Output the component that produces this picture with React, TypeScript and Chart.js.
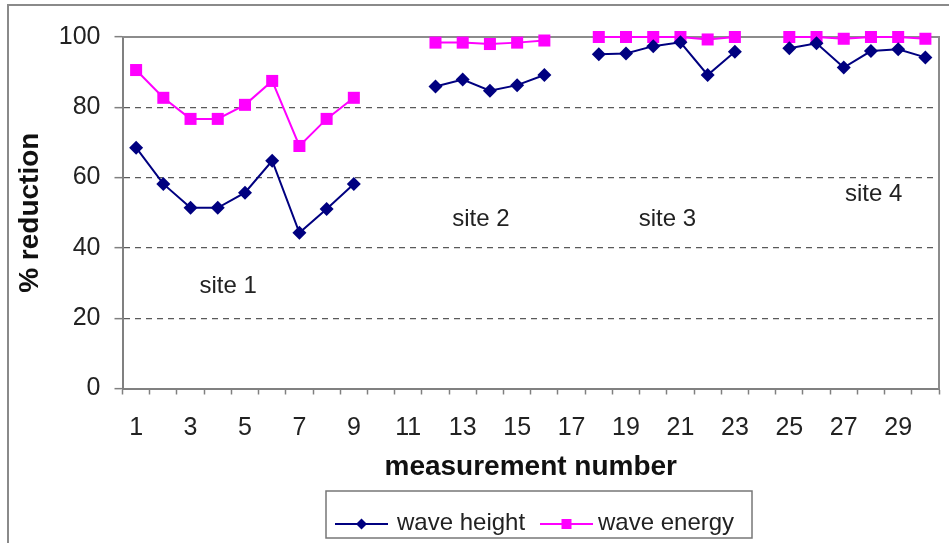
import React, { useEffect, useRef } from "react";
import { Chart, registerables } from "chart.js";

Chart.register(...registerables);

const categories: string[] = Array.from({ length: 30 }, (_, i) => String(i + 1));

const waveHeight: (number | null)[] = [
  68.5, 58.2, 51.4, 51.4, 55.7, 64.8, 44.3, 51.1, 58.2,
  null, null,
  85.9, 87.9, 84.7, 86.3, 89.2,
  null,
  95.1, 95.3, 97.4, 98.5, 89.2, 95.8,
  null,
  96.8, 98.2, 91.3, 96.0, 96.5, 94.2,
];

const waveEnergy: (number | null)[] = [
  90.6, 82.7, 76.7, 76.7, 80.7, 87.5, 69.0, 76.7, 82.7,
  null, null,
  98.4, 98.4, 98.0, 98.4, 99.0,
  null,
  100, 100, 100, 100, 99.3, 100,
  null,
  100, 100, 99.5, 100, 100, 99.5,
];

const yTicks: number[] = [0, 20, 40, 60, 80, 100];

const siteLabels: string[] = ["site 1", "site 2", "site 3", "site 4"];
const siteLabelIndex: number[] = [3.38, 12.67, 19.52, 27.1];
const siteLabelValue: number[] = [29, 48, 48, 55.3];

const FONT = "'Liberation Sans', Arial, sans-serif";

const framePlugin = {
  id: "frame",
  beforeDraw(chart: any) {
    const ctx = chart.ctx;
    ctx.save();
    ctx.fillStyle = "#ffffff";
    ctx.fillRect(0, 0, chart.width, chart.height);
    ctx.strokeStyle = "#8a8a8a";
    ctx.lineWidth = 2;
    ctx.strokeRect(8, 5, chart.width + 20, chart.height + 20);
    ctx.restore();
  },
  beforeDatasetsDraw(chart: any) {
    const ctx = chart.ctx;
    const a = chart.chartArea;
    ctx.save();
    ctx.strokeStyle = "#8c8c8c";
    ctx.lineWidth = 2;
    ctx.beginPath();
    ctx.moveTo(a.left, a.top);
    ctx.lineTo(a.right, a.top);
    ctx.lineTo(a.right, a.bottom);
    ctx.stroke();
    ctx.restore();
  },
  afterDatasetsDraw(chart: any) {
    const ctx = chart.ctx;
    const xs = chart.scales.x;
    const ys = chart.scales.y;
    ctx.save();
    ctx.fillStyle = "#222222";
    ctx.font = `24px ${FONT}`;
    ctx.textAlign = "center";
    ctx.textBaseline = "middle";
    siteLabels.forEach((t, i) => {
      ctx.fillText(t, xs.getPixelForValue(siteLabelIndex[i]), ys.getPixelForValue(siteLabelValue[i]));
    });
    ctx.restore();
  },
  afterDraw(chart: any) {
    const ctx = chart.ctx;
    const bx = 326, by = 491, bw = 426, bh = 47;
    ctx.save();
    ctx.fillStyle = "#ffffff";
    ctx.fillRect(bx, by, bw, bh);
    ctx.strokeStyle = "#777777";
    ctx.lineWidth = 1.5;
    ctx.strokeRect(bx, by, bw, bh);
    const cy = 524;
    const items = [
      { x0: 335, x1: 388, tx: 397 },
      { x0: 540, x1: 593, tx: 598 },
    ];
    chart.data.datasets.forEach((ds: any, i: number) => {
      const it = items[i];
      ctx.strokeStyle = ds.borderColor;
      ctx.lineWidth = 2;
      ctx.beginPath();
      ctx.moveTo(it.x0, cy);
      ctx.lineTo(it.x1, cy);
      ctx.stroke();
      const mx = (it.x0 + it.x1) / 2;
      ctx.fillStyle = ds.pointBackgroundColor;
      ctx.beginPath();
      if (ds.pointStyle === "rectRot") {
        const r = 5.5;
        ctx.moveTo(mx, cy - r);
        ctx.lineTo(mx + r, cy);
        ctx.lineTo(mx, cy + r);
        ctx.lineTo(mx - r, cy);
        ctx.closePath();
      } else {
        ctx.rect(mx - 5, cy - 5, 10, 10);
      }
      ctx.fill();
      ctx.fillStyle = "#222222";
      ctx.font = `24px ${FONT}`;
      ctx.textAlign = "left";
      ctx.textBaseline = "alphabetic";
      ctx.fillText(ds.label, it.tx, 530);
    });
    ctx.restore();
  },
};

export default function App() {
  const ref = useRef<HTMLCanvasElement | null>(null);
  useEffect(() => {
    if (!ref.current) return;
    const chart = new Chart(ref.current, {
      type: "line",
      data: {
        labels: categories,
        datasets: [
          {
            label: "wave height",
            data: waveHeight,
            borderColor: "#000080",
            backgroundColor: "#000080",
            pointBackgroundColor: "#000080",
            pointBorderColor: "#000080",
            pointStyle: "rectRot",
            pointRadius: 7,
            pointBorderWidth: 0,
            borderWidth: 2,
            spanGaps: false,
            tension: 0,
            clip: false,
          },
          {
            label: "wave energy",
            data: waveEnergy,
            borderColor: "#ff00ff",
            backgroundColor: "#ff00ff",
            pointBackgroundColor: "#ff00ff",
            pointBorderColor: "#ff00ff",
            pointStyle: "rect",
            pointRadius: 8.5,
            pointBorderWidth: 0,
            borderWidth: 2,
            spanGaps: false,
            tension: 0,
            clip: false,
          },
        ],
      },
      options: {
        animation: false,
        responsive: false,
        devicePixelRatio: 1,
        layout: { padding: { left: 0, top: 37, right: 10, bottom: 0 } },
        plugins: {
          legend: { display: false },
          tooltip: { enabled: false },
        },
        scales: {
          x: {
            type: "category",
            offset: true,
            afterFit: (s: any) => {
              s.height = 154.5;
            },
            grid: {
              drawOnChartArea: false,
              drawTicks: true,
              tickLength: 6,
              offset: true,
              color: "#808080",
              tickColor: "#808080",
              tickWidth: 1.5,
            },
            border: { display: true, color: "#808080", width: 2 },
            ticks: {
              autoSkip: false,
              maxRotation: 0,
              minRotation: 0,
              padding: 19,
              color: "#222222",
              font: { family: FONT, size: 25 },
              callback: (_v: any, i: number) => (i % 2 === 0 ? categories[i] : ""),
            },
            title: {
              display: true,
              text: "measurement number",
              color: "#111111",
              font: { family: FONT, size: 28, weight: "bold" },
              padding: { top: 0, bottom: 59 },
            },
          },
          y: {
            min: 0,
            max: 100,
            afterFit: (s: any) => {
              s.width = 122.5;
            },
            afterBuildTicks: (s: any) => {
              s.ticks = yTicks.map((v) => ({ value: v }));
            },
            grid: {
              drawTicks: true,
              tickLength: 8,
              color: (c: any) =>
                c.tick && (c.tick.value === 0 || c.tick.value === 100) ? "rgba(0,0,0,0)" : "#5a5a5a",
              tickColor: "#808080",
              tickWidth: 1.5,
              lineWidth: 1.3,
            },
            border: { display: true, color: "#808080", width: 2, dash: [6, 5] },
            ticks: {
              padding: 14,
              color: "#222222",
              font: { family: FONT, size: 25 },
            },
            title: {
              display: true,
              text: "% reduction",
              color: "#111111",
              font: { family: FONT, size: 28, weight: "bold" },
              padding: { top: 13, bottom: 0 },
            },
          },
        },
      },
      plugins: [framePlugin],
    } as any);
    return () => chart.destroy();
  }, []);
  return (
    <div style={{ position: "fixed", left: 0, top: 0, width: 949, height: 543, background: "#fff" }}>
      <canvas ref={ref} width={949} height={543} style={{ display: "block", width: 949, height: 543 }} />
    </div>
  );
}
